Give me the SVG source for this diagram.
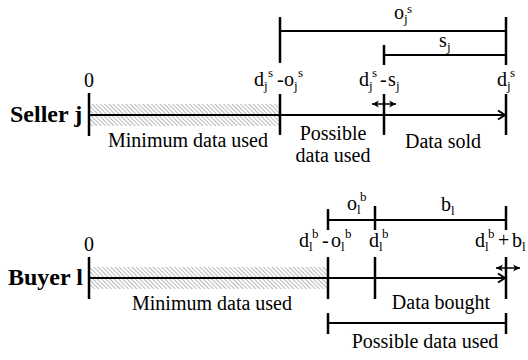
<svg xmlns="http://www.w3.org/2000/svg" width="528" height="360" viewBox="0 0 528 360">
<defs>
<pattern id="hatch" width="3" height="3" patternUnits="userSpaceOnUse" patternTransform="rotate(-45)">
<line x1="0" y1="0" x2="0" y2="3" stroke="#8a8a8a" stroke-width="1.2"/>
</pattern>
<marker id="open" markerWidth="12" markerHeight="12" refX="10" refY="6" orient="auto" markerUnits="userSpaceOnUse">
<path d="M3,1.5 L10,6 L3,10.5" fill="none" stroke="#000" stroke-width="2"/>
</marker>
<marker id="small" markerWidth="8" markerHeight="8" refX="7" refY="4" orient="auto-start-reverse" markerUnits="userSpaceOnUse">
<path d="M0,0.5 L7,4 L0,7.5 L2,4 Z" fill="#000"/>
</marker>
</defs>
<style>
text{font-family:"Liberation Serif","Times New Roman",serif;font-size:20px;fill:#000}
.b{font-weight:bold;font-size:24px}
.s{font-size:13px}
.tk{stroke:#000;stroke-width:2.5;fill:none}
.ax{stroke:#000;stroke-width:2;fill:none}
.br{stroke:#000;stroke-width:2;fill:none}
</style>

<g id="seller">
<rect x="89" y="104" width="191" height="22" fill="url(#hatch)"/>
<text class="b" x="10" y="122">Seller j</text>
<text x="89" y="87" text-anchor="middle">0</text>
<text><tspan x="254" y="86">d</tspan><tspan class="s" x="264" y="90">j</tspan><tspan class="s" x="268" y="77">s</tspan><tspan x="277" y="86">-</tspan><tspan x="284" y="86">o</tspan><tspan class="s" x="294" y="90">j</tspan><tspan class="s" x="298" y="77">s</tspan></text>
<text><tspan x="359" y="86">d</tspan><tspan class="s" x="369" y="90">j</tspan><tspan class="s" x="372" y="77">s</tspan><tspan x="380" y="86">-</tspan><tspan x="388" y="86">s</tspan><tspan class="s" x="396" y="90">j</tspan></text>
<text><tspan x="497" y="86">d</tspan><tspan class="s" x="507" y="90">j</tspan><tspan class="s" x="510" y="77">s</tspan></text>
<text><tspan x="394" y="19">o</tspan><tspan class="s" x="404" y="23">j</tspan><tspan class="s" x="407" y="13">s</tspan></text>
<text><tspan x="439" y="47">s</tspan><tspan class="s" x="447" y="51">j</tspan></text>
<text x="188" y="147" text-anchor="middle">Minimum data used</text>
<text x="333" y="140" text-anchor="middle">Possible</text>
<text x="333" y="162" text-anchor="middle">data used</text>
<text x="443" y="148" text-anchor="middle">Data sold</text>
</g>

<g id="buyer">
<rect x="89" y="267" width="239" height="22" fill="url(#hatch)"/>
<text class="b" x="8" y="285">Buyer l</text>
<text x="89" y="251" text-anchor="middle">0</text>
<text><tspan x="299" y="247">d</tspan><tspan class="s" x="309" y="251">l</tspan><tspan class="s" x="312" y="238">b</tspan><tspan x="322" y="247">-</tspan><tspan x="331" y="247">o</tspan><tspan class="s" x="341" y="251">l</tspan><tspan class="s" x="345" y="238">b</tspan></text>
<text><tspan x="369" y="247">d</tspan><tspan class="s" x="379" y="251">l</tspan><tspan class="s" x="382" y="238">b</tspan></text>
<text><tspan x="475" y="247">d</tspan><tspan class="s" x="485" y="251">l</tspan><tspan class="s" x="488" y="238">b</tspan><tspan x="498" y="247">+</tspan><tspan x="512" y="247">b</tspan><tspan class="s" x="522" y="251">l</tspan></text>
<text><tspan x="347" y="210">o</tspan><tspan class="s" x="357" y="214">l</tspan><tspan class="s" x="360" y="201">b</tspan></text>
<text><tspan x="441" y="211">b</tspan><tspan class="s" x="451" y="215">l</tspan></text>
<text x="212" y="310" text-anchor="middle">Minimum data used</text>
<text x="441" y="309" text-anchor="middle">Data bought</text>
<text x="425" y="348" text-anchor="middle">Possible data used</text>
</g>

<g id="connectors">
<line class="ax" x1="89" y1="115" x2="505" y2="115" marker-end="url(#open)"/>
<line class="tk" x1="89" y1="93" x2="89" y2="136"/>
<line class="tk" x1="280" y1="94" x2="280" y2="135"/>
<line class="tk" x1="384" y1="94" x2="384" y2="135"/>
<line class="tk" x1="506" y1="94" x2="506" y2="135"/>
<line class="br" x1="280" y1="31" x2="506" y2="31"/>
<line class="tk" x1="280" y1="17" x2="280" y2="63"/>
<line class="tk" x1="506" y1="17" x2="506" y2="65"/>
<line class="br" x1="384" y1="55" x2="506" y2="55"/>
<line class="tk" x1="384" y1="45" x2="384" y2="65"/>
<line stroke="#000" stroke-width="1.5" x1="372" y1="104" x2="396" y2="104" marker-start="url(#small)" marker-end="url(#small)"/>
<line class="ax" x1="89" y1="278" x2="505" y2="278" marker-end="url(#open)"/>
<line class="tk" x1="89" y1="257" x2="89" y2="299"/>
<line class="tk" x1="328" y1="257" x2="328" y2="299"/>
<line class="tk" x1="375" y1="257" x2="375" y2="299"/>
<line class="tk" x1="506" y1="257" x2="506" y2="299"/>
<line class="br" x1="328" y1="220" x2="506" y2="220"/>
<line class="tk" x1="328" y1="209" x2="328" y2="230"/>
<line class="tk" x1="375" y1="206" x2="375" y2="230"/>
<line class="tk" x1="506" y1="206" x2="506" y2="230"/>
<line class="br" x1="328" y1="323" x2="506" y2="323"/>
<line class="tk" x1="328" y1="313" x2="328" y2="334"/>
<line class="tk" x1="506" y1="313" x2="506" y2="334"/>
<line stroke="#000" stroke-width="1.5" x1="496" y1="268" x2="520" y2="268" marker-start="url(#small)" marker-end="url(#small)"/>
</g>
</svg>
